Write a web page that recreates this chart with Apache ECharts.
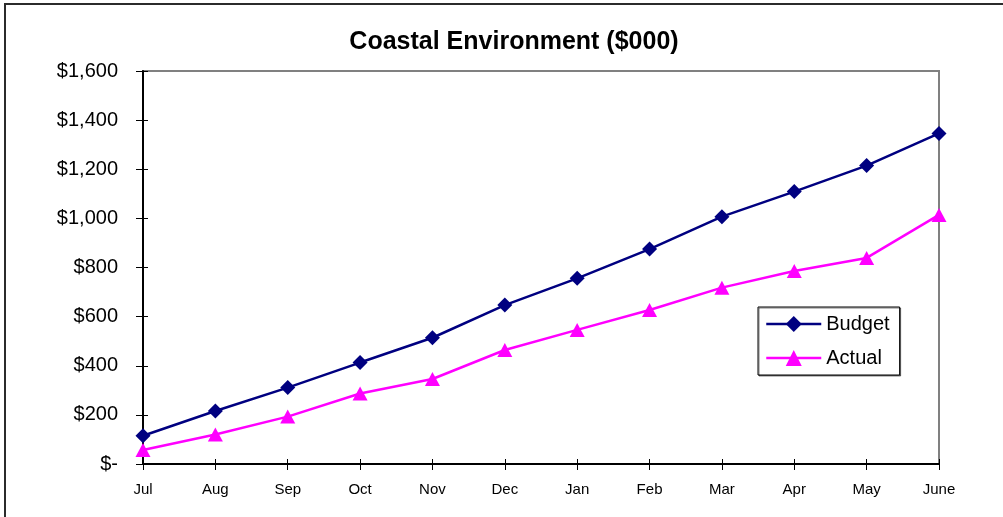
<!DOCTYPE html>
<html>
<head>
<meta charset="utf-8">
<script src="https://cdn.jsdelivr.net/npm/echarts@6/dist/echarts.min.js"></script>
<style>
  html, body { margin: 0; padding: 0; background: #fff; }
  #chart { width: 1003px; height: 517px; }
</style>
</head>
<body>
<div id="chart"></div>
<script>
// months on the x axis
var months = ['Jul', 'Aug', 'Sep', 'Oct', 'Nov', 'Dec', 'Jan', 'Feb', 'Mar', 'Apr', 'May', 'June'];
// values in $000
var budget = [115, 216, 311, 413, 514, 647, 756, 875, 1007, 1109, 1215, 1346];
var actual = [57, 120, 193, 287, 346, 464, 546, 627, 718, 786, 839, 1014];

var fontName = 'Liberation Sans, Arial, sans-serif';

function money(v) {
    if (v === 0) return '$-';
    return '$' + v.toLocaleString('en-US');
}

var chart = echarts.init(document.getElementById('chart'));

var option = {
    animation: false,
    backgroundColor: '#fff',
    title: {
        text: 'Coastal Environment ($000)',
        left: 509,
        top: 25,
        textAlign: 'center',
        textStyle: {
            fontFamily: fontName,
            fontWeight: 'bold',
            fontSize: 25,
            color: '#000'
        }
    },
    legend: {
        orient: 'vertical',
        left: 758,
        top: 307,
        width: 144,
        padding: [7, 10, 7, 7],
        itemGap: 14,
        itemWidth: 55,
        itemHeight: 20,
        borderColor: '#000',
        borderWidth: 1,
        shadowColor: 'rgba(0,0,0,0.5)',
        shadowOffsetX: 1,
        shadowOffsetY: 1,
        backgroundColor: '#fff',
        lineStyle: { width: 2.5 },
        data: ['Budget', 'Actual'],
        textStyle: {
            fontFamily: fontName,
            fontSize: 20,
            color: '#000'
        }
    },
    grid: {
        left: 143,
        right: 64,
        top: 71,
        bottom: 53,
        show: true,
        borderColor: '#808080',
        borderWidth: 2,
        containLabel: false
    },
    xAxis: [
        {
            type: 'category',
            data: months,
            boundaryGap: false,
            axisLine: { lineStyle: { color: '#000', width: 2 } },
            axisTick: { show: true, length: 6, lineStyle: { color: '#000', width: 1 } },
            axisLabel: {
                margin: 18,
                fontFamily: fontName,
                fontSize: 15,
                color: '#000',
                interval: 0
            },
            splitLine: { show: false }
        },
        {
            type: 'category',
            data: months,
            boundaryGap: false,
            position: 'bottom',
            offset: 0,
            axisLine: { show: false },
            axisTick: { show: true, inside: true, length: 5, lineStyle: { color: '#000', width: 1 } },
            axisLabel: { show: false },
            splitLine: { show: false }
        }
    ],
    yAxis: [
        {
            type: 'value',
            min: 0,
            max: 1600,
            interval: 200,
            axisLine: { show: true, lineStyle: { color: '#000', width: 2 } },
            axisTick: { show: true, length: 7, lineStyle: { color: '#000', width: 1 } },
            axisLabel: {
                margin: 25,
                fontFamily: fontName,
                fontSize: 20,
                color: '#000',
                formatter: money
            },
            splitLine: { show: false }
        },
        {
            type: 'value',
            min: 0,
            max: 1600,
            interval: 200,
            position: 'left',
            offset: 0,
            axisLine: { show: false },
            axisTick: { show: true, inside: true, length: 5, lineStyle: { color: '#000', width: 1 } },
            axisLabel: { show: false },
            splitLine: { show: false }
        }
    ],
    graphic: [
        {
            type: 'polyline',
            shape: { points: [[5, 517], [5, 4], [1003, 4]] },
            style: { stroke: '#2b2b2b', lineWidth: 2, fill: null },
            z: 100
        }
    ],
    series: [
        {
            name: 'Budget',
            type: 'line',
            data: budget,
            symbol: 'diamond',
            symbolSize: 15,
            showAllSymbol: true,
            lineStyle: { color: '#000080', width: 2.5 },
            itemStyle: { color: '#000080' },
            z: 3
        },
        {
            name: 'Actual',
            type: 'line',
            data: actual,
            symbol: 'triangle',
            symbolSize: [15, 14],
            showAllSymbol: true,
            lineStyle: { color: '#ff00ff', width: 2.5 },
            itemStyle: { color: '#ff00ff' },
            z: 4
        }
    ]
};

chart.setOption(option);
</script>
</body>
</html>
